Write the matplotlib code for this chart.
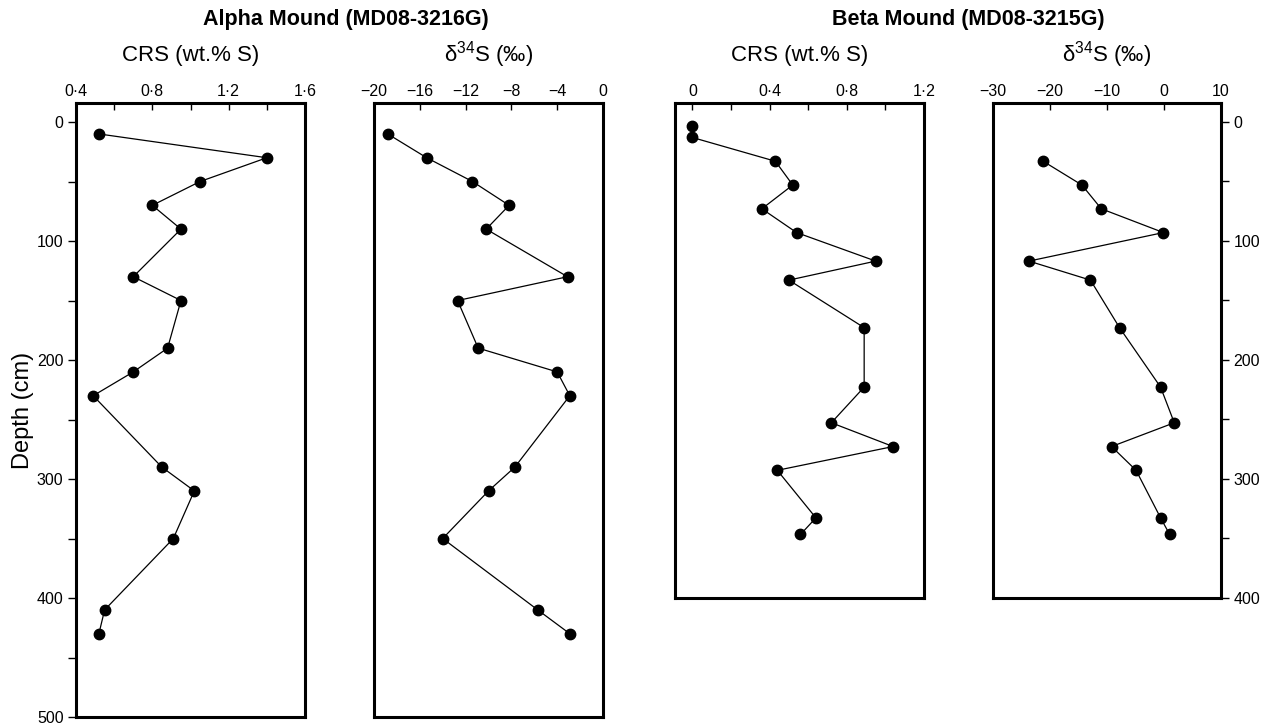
import numpy as np
import matplotlib
matplotlib.use('Agg')
from matplotlib import pyplot as plt
from matplotlib.ticker import MultipleLocator, FuncFormatter

# depth profiles (depth in cm)
alpha_depth = [10, 30, 50, 70, 90, 130, 150, 190, 210, 230, 290, 310, 350, 410, 430]
alpha_crs = [0.52, 1.40, 1.05, 0.80, 0.95, 0.70, 0.95, 0.88, 0.70, 0.49, 0.85, 1.02, 0.91, 0.55, 0.52]
alpha_d34s = [-18.8, -15.4, -11.4, -8.2, -10.2, -3.1, -12.7, -10.9, -4.0, -2.9, -7.7, -10.0, -14.0, -5.7, -2.9]

beta_crs_depth = [3, 13, 33, 53, 73, 93, 117, 133, 173, 223, 253, 273, 293, 333, 347]
beta_crs = [0.0, 0.0, 0.43, 0.52, 0.36, 0.54, 0.95, 0.50, 0.89, 0.89, 0.72, 1.04, 0.44, 0.64, 0.56]
beta_d34s_depth = [33, 53, 73, 93, 117, 133, 173, 223, 253, 273, 293, 333, 347]
beta_d34s = [-21.2, -14.4, -11.0, -0.1, -23.7, -12.9, -7.8, -0.6, 1.8, -9.2, -4.9, -0.6, 1.0]

plt.rcParams['font.family'] = ['Liberation Sans', 'DejaVu Sans']
plt.rcParams['mathtext.fontset'] = 'custom'
plt.rcParams['mathtext.rm'] = 'Liberation Sans'
plt.rcParams['mathtext.it'] = 'Liberation Sans:italic'

W, H = 1268, 723
fig = plt.figure(figsize=(W / 100, H / 100), dpi=100)


# axes rectangle from pixel edges
def box(left, right, top, bottom):
    return [left / W, 1 - bottom / H, (right - left) / W, (bottom - top) / H]


def dot_fmt(v, pos):
    return ('%g' % round(v, 1)).replace('.', '\u00b7')


def make_panel(rect, x, depth, xlim, major, minor, ymax, title, fmt=None):
    ax = fig.add_axes(rect)
    ax.plot(x, depth, color='black', lw=0.9, marker='o', ms=7.5, zorder=3, clip_on=False)
    ax.set_xlim(xlim)
    ax.set_ylim(ymax, -16)
    ax.xaxis.set_major_locator(MultipleLocator(major))
    if minor:
        ax.xaxis.set_minor_locator(MultipleLocator(minor))
    if fmt:
        ax.xaxis.set_major_formatter(FuncFormatter(fmt))
    ax.xaxis.tick_top()
    ax.tick_params(axis='x', which='both', direction='in', length=5, width=1,
                   labelsize=11.5, pad=3)
    ax.yaxis.set_major_locator(MultipleLocator(100))
    ax.yaxis.set_minor_locator(MultipleLocator(50))
    ax.tick_params(axis='y', which='both', left=False, right=False,
                   labelleft=False, labelright=False)
    for s in ax.spines.values():
        s.set_linewidth(2.2)
    ax.text(0.5, 1 - (55 - 103) / rect[3] / H, title, transform=ax.transAxes,
            ha='center', va='center', fontsize=16)
    return ax


ax1 = make_panel(box(76, 305, 103, 717), alpha_crs, alpha_depth, (0.4, 1.6), 0.4, 0.2, 500,
                 'CRS (wt.% S)', dot_fmt)
ax2 = make_panel(box(374, 603, 103, 717), alpha_d34s, alpha_depth, (-20, 0), 4, None, 500,
                 r'δ$^{34}$S (‰)')
ax3 = make_panel(box(675, 924, 103, 597.5), beta_crs, beta_crs_depth, (-0.09, 1.2), 0.4, 0.2, 400,
                 'CRS (wt.% S)', dot_fmt)
ax4 = make_panel(box(993, 1221, 103, 597.5), beta_d34s, beta_d34s_depth, (-30, 10), 10, None, 400,
                 r'δ$^{34}$S (‰)')

ax1.tick_params(axis='y', which='both', left=True, labelleft=True, direction='out',
                length=6, width=1, labelsize=11.5, pad=3)
ax1.set_ylabel('Depth (cm)', fontsize=17, labelpad=2)

ax4.yaxis.tick_right()
ax4.tick_params(axis='y', which='both', right=True, labelright=True, direction='out',
                length=6, width=1, labelsize=11.5, pad=3)

fig.text(346 / W, 1 - 19 / H, 'Alpha Mound (MD08-3216G)', ha='center', va='center',
         fontsize=15.5, fontweight='bold')
fig.text(968 / W, 1 - 19 / H, 'Beta Mound (MD08-3215G)', ha='center', va='center',
         fontsize=15.5, fontweight='bold')

fig.savefig('out.png', dpi=100)
